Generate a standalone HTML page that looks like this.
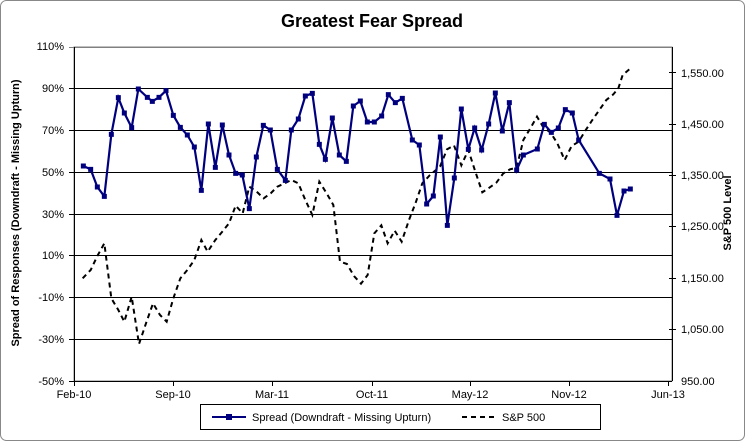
<!DOCTYPE html>
<html><head><meta charset="utf-8"><style>
body{margin:0;background:#fff;}
svg{display:block;font-family:"Liberation Sans",sans-serif;}
</style></head><body>
<svg width="745" height="441" viewBox="0 0 745 441">
<rect x="0.5" y="0.5" width="744" height="440" rx="6" fill="#fff" stroke="#888"/>
<text x="372" y="27" text-anchor="middle" font-size="18" font-weight="bold">Greatest Fear Spread</text>
<rect x="74" y="47" width="598" height="334" fill="#fff" stroke="#808080"/>
<g stroke="#000" stroke-width="1">
<line x1="69" x2="672" y1="47.5" y2="47.5" stroke="#808080"/>
<line x1="69" x2="672" y1="88.5" y2="88.5"/><line x1="69" x2="672" y1="130.5" y2="130.5"/>
<line x1="69" x2="672" y1="172.5" y2="172.5"/><line x1="69" x2="672" y1="214.5" y2="214.5"/>
<line x1="69" x2="672" y1="255.5" y2="255.5"/><line x1="69" x2="672" y1="297.5" y2="297.5"/>
<line x1="69" x2="672" y1="339.5" y2="339.5"/>
<line x1="74.5" x2="74.5" y1="47" y2="381"/><line x1="672.5" x2="672.5" y1="47" y2="381"/>
<line x1="69" x2="672" y1="381.5" y2="381.5"/>
<line x1="74.5" x2="74.5" y1="381" y2="386"/><line x1="173.5" x2="173.5" y1="381" y2="386"/>
<line x1="272.5" x2="272.5" y1="381" y2="386"/><line x1="372.5" x2="372.5" y1="381" y2="386"/>
<line x1="470.5" x2="470.5" y1="381" y2="386"/><line x1="569.5" x2="569.5" y1="381" y2="386"/>
<line x1="668.5" x2="668.5" y1="381" y2="386"/>
<line x1="669" x2="676" y1="72.5" y2="72.5"/><line x1="669" x2="676" y1="124.5" y2="124.5"/>
<line x1="669" x2="676" y1="175.5" y2="175.5"/><line x1="669" x2="676" y1="226.5" y2="226.5"/>
<line x1="669" x2="676" y1="278.5" y2="278.5"/><line x1="669" x2="676" y1="329.5" y2="329.5"/>
</g>
<g font-size="11" text-anchor="end">
<text x="64" y="50">110%</text><text x="64" y="92">90%</text><text x="64" y="134">70%</text>
<text x="64" y="176">50%</text><text x="64" y="218">30%</text><text x="64" y="259">10%</text>
<text x="64" y="301">-10%</text><text x="64" y="343">-30%</text><text x="64" y="385">-50%</text>
</g>
<g font-size="11">
<text x="681" y="77">1,550.00</text><text x="681" y="128">1,450.00</text><text x="681" y="179">1,350.00</text>
<text x="681" y="230">1,250.00</text><text x="681" y="282">1,150.00</text><text x="681" y="333">1,050.00</text>
<text x="681" y="385">950.00</text>
</g>
<g font-size="11" text-anchor="middle">
<text x="74" y="398">Feb-10</text><text x="173" y="398">Sep-10</text><text x="272" y="398">Mar-11</text>
<text x="372" y="398">Oct-11</text><text x="470" y="398">May-12</text><text x="569" y="398">Nov-12</text>
<text x="668" y="398">Jun-13</text>
</g>
<text transform="translate(19,213) rotate(-90)" text-anchor="middle" font-size="11" font-weight="bold">Spread of Responses (Downdraft - Missing Upturn)</text>
<text transform="translate(731,213) rotate(-90)" text-anchor="middle" font-size="11" font-weight="bold">S&amp;P 500 Level</text>
<g transform="translate(70,40) scale(0.33333)">
<polyline fill="none" stroke="#000" stroke-width="2" stroke-dasharray="5,4" vector-effect="non-scaling-stroke" points="38,715 62,690 82,648 103,610 124,775 145,810 163,845 185,770 207,912 228,850 249,790 270,825 290,845 310,775 331,715 352,690 373,660 394,600 413,635 436,600 457,575 477,550 497,497 518,520 538,440 560,455 581,475 602,460 622,440 644,430 664,420 685,430 706,480 727,525 748,425 770,460 790,495 810,665 831,672 852,708 873,731 893,705 913,580 934,556 953,610 974,572 995,605 1017,540 1037,488 1057,430 1080,405 1110,380 1131,328 1152,316 1174,376 1195,330 1216,395 1237,457 1258,443 1279,428 1300,400 1320,388 1340,383 1360,300 1381,265 1401,230 1420,262 1442,278 1462,310 1484,360 1505,318 1526,305 1546,272 1567,240 1588,210 1609,180 1630,163 1645,145 1658,105 1678,88"/>
<polyline fill="none" stroke="#00007f" stroke-width="2.2" vector-effect="non-scaling-stroke" points="40,378 62,388 82,441 103,469 124,283 145,173 163,219 185,263 205,147 232,172 247,184 267,172 288,152 310,226 331,262 352,285 373,321 394,451 415,252 436,382 457,255 477,345 497,400 517,405 538,506 559,351 580,256 601,270 622,388 646,421 664,270 685,237 706,168 727,160 748,313 766,358 787,234 808,345 829,364 850,198 871,183 892,246 913,246 935,228 955,164 976,188 997,175 1027,300 1048,315 1070,492 1090,468 1111,291 1132,556 1153,414 1174,207 1195,328 1214,264 1235,330 1256,252 1276,159 1297,273 1318,188 1340,390 1360,345 1402,327 1423,253 1444,277 1465,264 1486,209 1507,219 1526,300 1588,400 1620,417 1641,526 1662,453 1681,447"/>
<g fill="#00007f" transform="translate(1.5,1.5)">
<path d="M31,369h15v15h-15zM53,379h15v15h-15zM73,432h15v15h-15zM94,460h15v15h-15zM115,274h15v15h-15zM136,164h15v15h-15zM154,210h15v15h-15zM176,254h15v15h-15zM196,138h15v15h-15zM223,163h15v15h-15zM238,175h15v15h-15zM258,163h15v15h-15zM279,143h15v15h-15zM301,217h15v15h-15zM322,253h15v15h-15zM343,276h15v15h-15zM364,312h15v15h-15zM385,442h15v15h-15zM406,243h15v15h-15zM427,373h15v15h-15zM448,246h15v15h-15zM468,336h15v15h-15zM488,391h15v15h-15zM508,396h15v15h-15zM529,497h15v15h-15zM550,342h15v15h-15zM571,247h15v15h-15zM592,261h15v15h-15zM613,379h15v15h-15zM637,412h15v15h-15zM655,261h15v15h-15zM676,228h15v15h-15zM697,159h15v15h-15zM718,151h15v15h-15zM739,304h15v15h-15zM757,349h15v15h-15zM778,225h15v15h-15zM799,336h15v15h-15zM820,355h15v15h-15zM841,189h15v15h-15zM862,174h15v15h-15zM883,237h15v15h-15zM904,237h15v15h-15zM926,219h15v15h-15zM946,155h15v15h-15zM967,179h15v15h-15zM988,166h15v15h-15zM1018,291h15v15h-15zM1039,306h15v15h-15zM1061,483h15v15h-15zM1081,459h15v15h-15zM1102,282h15v15h-15zM1123,547h15v15h-15zM1144,405h15v15h-15zM1165,198h15v15h-15zM1186,319h15v15h-15zM1205,255h15v15h-15zM1226,321h15v15h-15zM1247,243h15v15h-15zM1267,150h15v15h-15zM1288,264h15v15h-15zM1309,179h15v15h-15zM1331,381h15v15h-15zM1351,336h15v15h-15zM1393,318h15v15h-15zM1414,244h15v15h-15zM1435,268h15v15h-15zM1456,255h15v15h-15zM1477,200h15v15h-15zM1498,210h15v15h-15zM1517,291h15v15h-15zM1579,391h15v15h-15zM1611,408h15v15h-15zM1632,517h15v15h-15zM1653,444h15v15h-15zM1672,438h15v15h-15z"/>
</g>
</g>
<rect x="200.5" y="404.5" width="400" height="25" fill="#fff" stroke="#000"/>
<line x1="212" x2="246" y1="417" y2="417" stroke="#00007f" stroke-width="2"/>
<rect x="226" y="414" width="6" height="6" fill="#00007f"/>
<text x="252" y="421" font-size="11">Spread (Downdraft - Missing Upturn)</text>
<line x1="462" x2="496" y1="417" y2="417" stroke="#000" stroke-width="2" stroke-dasharray="5,4"/>
<text x="502" y="421" font-size="11">S&amp;P 500</text>
</svg>
</body></html>
